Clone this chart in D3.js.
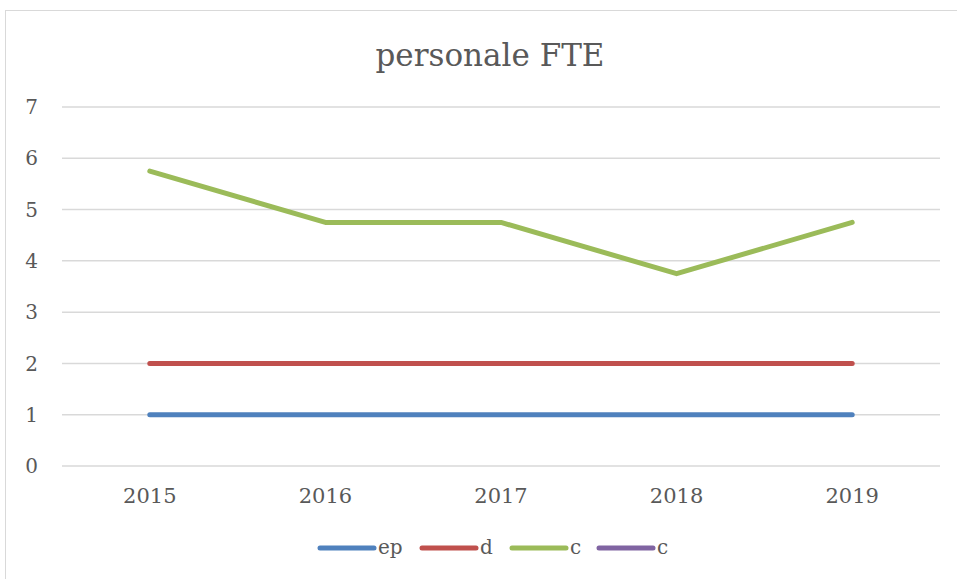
<!DOCTYPE html>
<html>
<head>
<meta charset="utf-8">
<script src="https://cdn.jsdelivr.net/npm/d3@7"></script>
<style>
  body { margin: 0; background: #fff; }
  text { font-family: "DejaVu Serif", serif; fill: #595959; }
</style>
</head>
<body>
<svg id="chart" width="957" height="579"></svg>
<script>
"use strict";

// data
var years = ["2015", "2016", "2017", "2018", "2019"];
var seriesNames = ["ep", "d", "c", "c"];
var epValues = [1, 1, 1, 1, 1];
var dValues = [2, 2, 2, 2, 2];
var cValues = [5.75, 4.75, 4.75, 3.75, 4.75];
var c2Values = [null, null, null, null, null];
var yTicks = [0, 1, 2, 3, 4, 5, 6, 7];
var colors = ["#4f81bd", "#c0504d", "#9bbb59", "#8064a2"];

var series = [epValues, dValues, cValues, c2Values].map(function(v, i) {
  return { name: seriesNames[i], values: v, color: colors[i] };
});

var svg = d3.select("#chart");
var margin = { left: 62, right: 17, top: 107, bottom: 113 };
var width = 957, height = 579;

// outer chart border
svg.append("rect")
  .attr("x", 5.5).attr("y", 10.5)
  .attr("width", 960).attr("height", 600)
  .attr("fill", "none")
  .attr("stroke", "#d9d9d9");

var x = d3.scaleBand()
  .domain(years)
  .range([margin.left, width - margin.right]);

var y = d3.scaleLinear()
  .domain([0, 7])
  .range([height - margin.bottom, margin.top]);

// gridlines
svg.append("g")
  .selectAll("line")
  .data(yTicks)
  .enter()
  .append("line")
  .attr("x1", margin.left)
  .attr("x2", width - margin.right)
  .attr("y1", function(d) { return y(d); })
  .attr("y2", function(d) { return y(d); })
  .attr("stroke", "#d9d9d9")
  .attr("stroke-width", 1.5);

// y labels
svg.append("g")
  .selectAll("text")
  .data(yTicks)
  .enter()
  .append("text")
  .attr("x", 38)
  .attr("y", function(d) { return y(d); })
  .attr("dy", "0.36em")
  .attr("text-anchor", "end")
  .attr("font-size", "20px")
  .text(function(d) { return d; });

// x labels
svg.append("g")
  .selectAll("text")
  .data(years)
  .enter()
  .append("text")
  .attr("x", function(d) { return x(d) + x.bandwidth() / 2; })
  .attr("y", 503)
  .attr("text-anchor", "middle")
  .attr("font-size", "21px")
  .text(function(d) { return d; });

// lines
var line = d3.line()
  .defined(function(d) { return d != null; })
  .x(function(d, i) { return x(years[i]) + x.bandwidth() / 2; })
  .y(function(d) { return y(d); });

svg.append("g")
  .selectAll("path")
  .data(series)
  .enter()
  .append("path")
  .attr("d", function(d) { return line(d.values); })
  .attr("fill", "none")
  .attr("stroke", function(d) { return d.color; })
  .attr("stroke-width", 5)
  .attr("stroke-linecap", "round")
  .attr("stroke-linejoin", "round");

// title
svg.append("text")
  .attr("x", 490)
  .attr("y", 66)
  .attr("text-anchor", "middle")
  .attr("font-size", "31px")
  .text("personale FTE");

// legend
var legendX = [320, 422, 512, 599];
var legend = svg.append("g")
  .selectAll("g")
  .data(series)
  .enter()
  .append("g")
  .attr("transform", function(d, i) { return "translate(" + legendX[i] + ",548)"; });

legend.append("line")
  .attr("x1", 0).attr("x2", 54)
  .attr("stroke", function(d) { return d.color; })
  .attr("stroke-width", 5)
  .attr("stroke-linecap", "round");

legend.append("text")
  .attr("x", 58)
  .attr("dy", "0.32em")
  .attr("font-size", "20px")
  .text(function(d) { return d.name; });
</script>
</body>
</html>
